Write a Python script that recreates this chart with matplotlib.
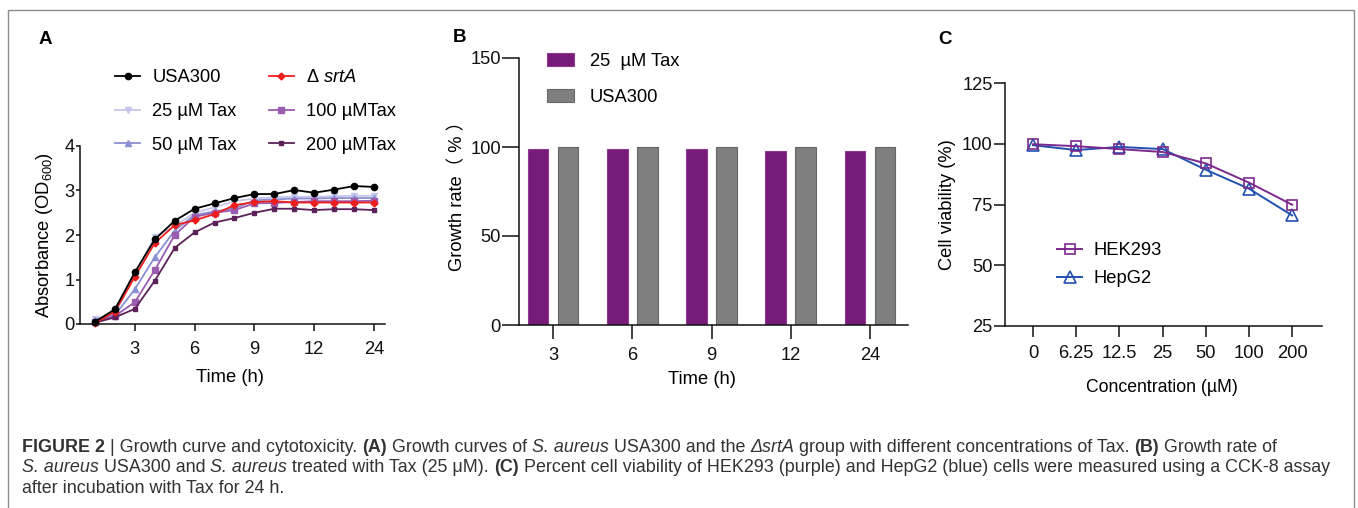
import matplotlib
matplotlib.use("Agg")
import matplotlib.pyplot as plt
from matplotlib.lines import Line2D
from matplotlib.patches import Rectangle

plt.rcParams['font.family'] = ['Liberation Sans', 'Noto Sans CJK SC', 'DejaVu Sans']
plt.rcParams['mathtext.fontset'] = 'custom'
plt.rcParams['mathtext.rm'] = 'Liberation Sans'
plt.rcParams['mathtext.it'] = 'Liberation Sans:italic'
plt.rcParams['mathtext.bf'] = 'Liberation Sans:bold'

W, H = 1358, 508
FS = 13.2

# ---- data ----
# panel A: growth curves (OD600), 15 sampling points
time_pos = list(range(1, 16))
time_ticks = [3, 6, 9, 12, 15]
time_ticklabels = ['3', '6', '9', '12', '24']
usa300 = [0.05, 0.33, 1.16, 1.90, 2.32, 2.59, 2.71, 2.83, 2.92, 2.92, 3.01, 2.95, 3.02, 3.10, 3.08]
srtA = [0.02, 0.28, 1.06, 1.82, 2.22, 2.33, 2.47, 2.67, 2.74, 2.76, 2.73, 2.73, 2.73, 2.73, 2.73]
tax25 = [0.12, 0.22, 1.12, 1.96, 2.20, 2.50, 2.62, 2.76, 2.82, 2.85, 2.86, 2.86, 2.87, 2.88, 2.88]
tax50 = [0.10, 0.20, 0.78, 1.50, 2.10, 2.45, 2.53, 2.60, 2.78, 2.80, 2.82, 2.82, 2.83, 2.83, 2.83]
tax100 = [0.05, 0.18, 0.49, 1.21, 2.00, 2.41, 2.50, 2.56, 2.71, 2.72, 2.74, 2.76, 2.76, 2.76, 2.77]
tax200 = [0.03, 0.15, 0.34, 0.97, 1.71, 2.06, 2.28, 2.38, 2.50, 2.59, 2.59, 2.56, 2.58, 2.58, 2.56]

# panel B: growth rate (%)
rate_times = ['3', '6', '9', '12', '24']
rate_tax25 = [98.8, 98.8, 98.8, 97.5, 97.5]
rate_usa300 = [100, 100, 100, 100, 100]

# panel C: cell viability (%)
conc_labels = ['0', '6.25', '12.5', '25', '50', '100', '200']
hek293 = [99.8, 99.0, 97.8, 96.6, 91.9, 84.0, 74.9]
hepg2 = [99.4, 97.4, 98.7, 97.8, 89.3, 81.5, 70.5]


def box(l, t, r, b):
    return [l / W, 1 - b / H, (r - l) / W, (b - t) / H]


def fx(px):
    return px / W


def fy(py):
    return 1 - py / H


def style_axes(ax, xlen, ylen, xpad, ypad):
    for s in ['top', 'right']:
        ax.spines[s].set_visible(False)
    for s in ['left', 'bottom']:
        ax.spines[s].set_linewidth(1.1)
        ax.spines[s].set_color('#111111')
    ax.tick_params(axis='x', length=xlen, width=1.1, pad=xpad, labelsize=FS, colors='#111111')
    ax.tick_params(axis='y', length=ylen, width=1.1, pad=ypad, labelsize=FS, colors='#111111')


fig = plt.figure(figsize=(W / 100, H / 100), dpi=100)

# outer frame
fig.patches.append(Rectangle((fx(8), -0.05), fx(1354) - fx(8), fy(10) + 0.05,
                             transform=fig.transFigure, fill=False,
                             edgecolor='#8c8c8c', linewidth=1.0))

# ---------------- panel A ----------------
axA = fig.add_axes(box(80, 146, 385, 324))
seriesA = [
    (usa300, 'USA300', 'black', 'o', 4.5),
    (tax25, '25 µM Tax', '#c6c6ea', 'v', 4.5),
    (tax50, '50 µM Tax', '#8b90d2', '^', 4.5),
    (srtA, r'Δ $\mathit{srtA}$', '#ee1c1c', 'D', 3.5),
    (tax100, '100 µMTax', '#9a5cb0', 's', 4),
    (tax200, '200 µMTax', '#5c2158', 's', 3),
]
handlesA = []
for vals, lab, col, mk, ms in [seriesA[1], seriesA[2], seriesA[4], seriesA[5], seriesA[3], seriesA[0]]:
    axA.plot(time_pos, vals, color=col, marker=mk, markersize=ms, linewidth=1.3, clip_on=False)
for vals, lab, col, mk, ms in seriesA:
    handlesA.append(Line2D([], [], color=col, marker=mk, markersize=ms, linewidth=1.3, label=lab))
axA.set_xlim(0.25, 15.55)
axA.set_ylim(0, 4)
axA.set_yticks([0, 1, 2, 3, 4])
axA.set_xticks(time_ticks)
axA.set_xticklabels(time_ticklabels)
style_axes(axA, 5, 3, 7, 1)
axA.set_xlabel('Time (h)', fontsize=FS)
axA.xaxis.set_label_coords((230 - 80) / 305, -(378 - 324) / 178)
axA.set_ylabel(r'Absorbance (OD$_{600}$)', fontsize=FS)
axA.yaxis.set_label_coords(-(80 - 45) / 305, 0.5)
axA.xaxis.label.set_va('center')
axA.yaxis.label.set_va('center')
fig.legend(handles=handlesA, ncol=2, loc='upper left', bbox_to_anchor=(fx(115), fy(69.5)),
           frameon=False, fontsize=FS, handlelength=1.37, handletextpad=0.66,
           columnspacing=1.75, labelspacing=0.9, borderpad=0, borderaxespad=0)
fig.text(fx(45), fy(40), 'A', fontsize=13.5, fontweight='bold', ha='center', va='center')

# ---------------- panel B ----------------
axB = fig.add_axes(box(519, 58, 908, 325))
xb = list(range(len(rate_times)))
axB.bar([x - 0.19 for x in xb], rate_tax25, width=0.26, color='#761c78',
        edgecolor='#8e3a90', linewidth=0.8, label='25  µM Tax')
axB.bar([x + 0.19 for x in xb], rate_usa300, width=0.26, color='#7f7f7f',
        edgecolor='#666666', linewidth=0.8, label='USA300')
axB.set_xlim(-0.43, 4.48)
axB.set_ylim(0, 150)
axB.set_yticks([0, 50, 100, 150])
axB.set_xticks(xb)
axB.set_xticklabels(rate_times)
style_axes(axB, 10, 12, 6, 1)
axB.set_xlabel('Time (h)', fontsize=FS)
axB.xaxis.set_label_coords((702 - 519) / 389, -(380 - 325) / 267)
axB.xaxis.label.set_va('center')
axB.set_ylabel('Growth rate（ % ）', fontsize=FS)
axB.yaxis.set_label_coords(-(519 - 458) / 389, 0.5)
axB.yaxis.label.set_va('center')
fig.legend(handles=axB.get_legend_handles_labels()[0], loc='upper left',
           bbox_to_anchor=(fx(547), fy(53)), frameon=False, fontsize=FS,
           handlelength=1.48, handleheight=0.71, handletextpad=0.87,
           labelspacing=1.05, borderpad=0, borderaxespad=0)
fig.text(fx(459), fy(38), 'B', fontsize=13.5, fontweight='bold', ha='center', va='center')

# ---------------- panel C ----------------
axC = fig.add_axes(box(1005, 83, 1322, 326))
xc = list(range(len(conc_labels)))
axC.plot(xc, hepg2, color='#2350b0', marker='^', markersize=8, markerfacecolor='none',
         markeredgewidth=1.2, linewidth=1.4, label='HepG2')
axC.plot(xc, hek293, color='#7b2a8c', marker='s', markersize=7.5, markerfacecolor='none',
         markeredgewidth=1.2, linewidth=1.4, label='HEK293')
axC.set_xlim(-0.65, 6.69)
axC.set_ylim(25, 125)
axC.set_yticks([25, 50, 75, 100, 125])
axC.set_xticks(xc)
axC.set_xticklabels(conc_labels)
style_axes(axC, 8, 8, 6, 1)
axC.set_xlabel('Concentration (µM)', fontsize=FS - 0.5)
axC.xaxis.set_label_coords((1162 - 1005) / 317, -(387 - 326) / 243)
axC.xaxis.label.set_va('center')
axC.set_ylabel('Cell viability (%)', fontsize=FS)
axC.yaxis.set_label_coords(-(1005 - 947) / 317, 0.5)
axC.yaxis.label.set_va('center')
hC, lC = axC.get_legend_handles_labels()
fig.legend(handles=hC[::-1], labels=lC[::-1], loc='upper left',
           bbox_to_anchor=(fx(1057), fy(242)), frameon=False, fontsize=FS,
           handlelength=1.37, handletextpad=0.6, labelspacing=0.61,
           borderpad=0, borderaxespad=0)
fig.text(fx(945), fy(39), 'C', fontsize=13.5, fontweight='bold', ha='center', va='center')

# ---------------- caption (runs of mixed style) ----------------
CFS = 12.9
CAP_COLOR = '#333333'
plain = {}
bold = {'fontweight': 'bold'}
ital = {'fontstyle': 'italic'}
caption_lines = [
    [('FIGURE 2', bold), (' | Growth curve and cytotoxicity. ', plain), ('(A)', bold),
     (' Growth curves of ', plain), ('S. aureus', ital), (' USA300 and the ', plain),
     ('ΔsrtA', ital), (' group with different concentrations of Tax. ', plain),
     ('(B)', bold), (' Growth rate of', plain)],
    [('S. aureus', ital), (' USA300 and ', plain), ('S. aureus', ital),
     (' treated with Tax (25 μM). ', plain), ('(C)', bold),
     (' Percent cell viability of HEK293 (purple) and HepG2 (blue) cells were '
      'measured using a CCK-8 assay', plain)],
    [('after incubation with Tax for 24 h.', plain)],
]
caption_baselines = [452, 472.5, 493]

renderer = fig.canvas.get_renderer()


def run_width(s, kw):
    # width including trailing spaces: measure s + 'x' minus 'x'
    t1 = fig.text(0, 0, s + 'x', fontsize=CFS, **kw)
    t2 = fig.text(0, 0, 'x', fontsize=CFS, **kw)
    w = t1.get_window_extent(renderer).width - t2.get_window_extent(renderer).width
    t1.remove()
    t2.remove()
    return w


for runs, yb in zip(caption_lines, caption_baselines):
    x = 22
    for s, kw in runs:
        fig.text(fx(x), fy(yb), s, fontsize=CFS, ha='left', va='baseline',
                 color=CAP_COLOR, **kw)
        x += run_width(s, kw)

fig.savefig('out.png', dpi=100)
